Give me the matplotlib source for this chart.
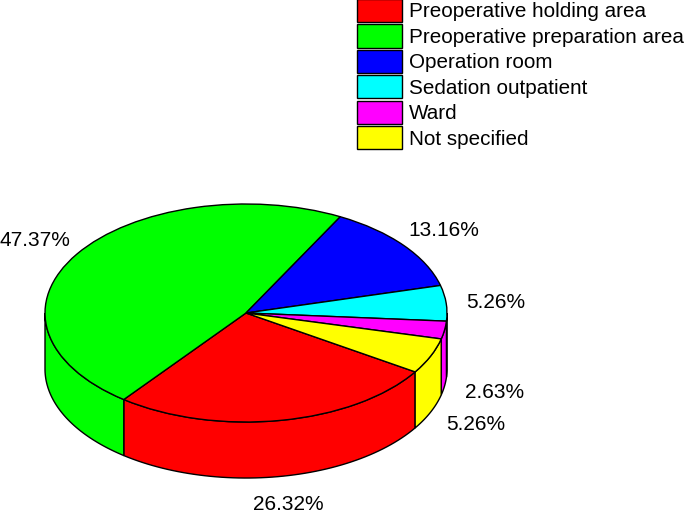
import numpy as np
import matplotlib
matplotlib.use('Agg')
import matplotlib.pyplot as plt
from matplotlib.patches import Patch, Polygon

plt.rcParams['font.family'] = ['Liberation Sans', 'DejaVu Sans']

categories = ['Preoperative holding area', 'Preoperative preparation area', 'Operation room',
              'Sedation outpatient', 'Ward', 'Not specified']
values = [26.32, 47.37, 13.16, 5.26, 2.63, 5.26]
colors = ['#ff0000', '#00ff00', '#0000ff', '#00ffff', '#ff00ff', '#ffff00']
value_labels = ['26.32%', '47.37%', '13.16%', '5.26%', '2.63%', '5.26%']

# label centres in pixels of the 685x512 picture
label_x = [288, 35, 444, 496, 495, 476]
label_y = [504, 240, 230, 303, 392, 425]

W, H = 685, 512
cx, cy = 246, 313
rx, ry = 201, 109
depth = 0.514  # thickness of the disc, in units of ry

fig = plt.figure(figsize=(W / 100, H / 100), dpi=100)
ax = fig.add_axes([0, 0, 1, 1])

wedges, _ = ax.pie(values, colors=colors, startangle=-32.7, counterclock=False, normalize=True,
                   wedgeprops=dict(edgecolor='black', linewidth=1, zorder=3))

# pie forces equal aspect, squash it into an ellipse
ax.set_aspect('auto')
ax.set_xlim(-cx / rx, (W - cx) / rx)
ax.set_ylim(-(H - cy) / ry, cy / ry)
ax.axis('off')

# side wall of the disc, only the front half shows
for w, c in zip(wedges, colors):
    for k in (-360, 0, 360, 720):
        lo = max(w.theta1 + k, 180)
        hi = min(w.theta2 + k, 360)
        if hi <= lo:
            continue
        t = np.radians(np.linspace(lo, hi, 60))
        top = np.column_stack([np.cos(t), np.sin(t)])
        bot = np.column_stack([np.cos(t[::-1]), np.sin(t[::-1]) - depth])
        ax.add_patch(Polygon(np.vstack([top, bot]), closed=True, facecolor=c,
                             edgecolor='black', linewidth=1, zorder=2))

for txt, x, y in zip(value_labels, label_x, label_y):
    fig.text(x / W, 1 - y / H, txt, fontsize=15, ha='center', va='center', color='black')

handles = [Patch(facecolor=c, edgecolor='black', linewidth=1) for c in colors]
fig.legend(handles, categories, loc='upper left', bbox_to_anchor=(357 / W, 1 + 1 / H),
           frameon=False, fontsize=14.85, borderpad=0, borderaxespad=0, handlelength=2.2,
           handleheight=1.34, handletextpad=0.3, labelspacing=0.12)

fig.savefig('out.png', dpi=100)
